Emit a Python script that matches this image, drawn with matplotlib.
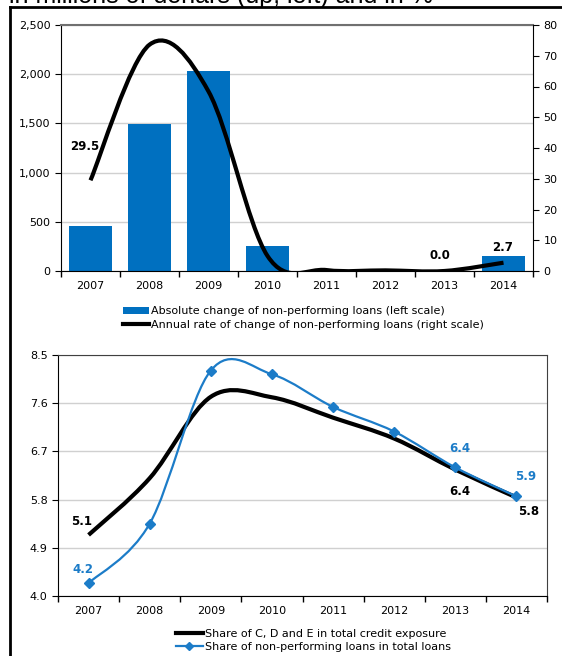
import numpy as np
import matplotlib
matplotlib.use('Agg')
import matplotlib.pyplot as plt
from matplotlib.path import Path
from matplotlib.patches import PathPatch, Patch
from matplotlib.lines import Line2D
from matplotlib.ticker import FuncFormatter

# data
years = ['2007', '2008', '2009', '2010', '2011', '2012', '2013', '2014']
npl_abs_change = [459, 1495, 2035, 257, 0, 0, 0, 155]          # millions of denars, left scale
npl_rate = [29.5, 73.6, 58.4, 4.9, 0.3, 0.2, 0.0, 2.7]           # %, right scale
share_cde = [5.14, 6.20, 7.72, 7.71, 7.33, 6.94, 6.36, 5.84]     # %
share_npl = [4.24, 5.35, 8.21, 8.14, 7.53, 7.07, 6.40, 5.86]     # %

title_txt = 'in millions of denars (up, left) and in %'
leg_top = ['Absolute change of non-performing loans (left scale)',
           'Annual rate of change of non-performing loans (right scale)']
leg_bot = ['Share of C, D and E in total credit exposure',
           'Share of non-performing loans in total loans']

bar_blue = '#0070C0'
line_blue = '#1C7CC8'
grid_col = '#D0D0D0'


def smooth_path(xs, ys):
    # excel-like smoothed line: cubic bezier through the points
    xs = np.asarray(xs, float)
    ys = np.asarray(ys, float)
    n = len(xs)
    verts = [(xs[0], ys[0])]
    codes = [Path.MOVETO]
    for i in range(n - 1):
        i0 = max(i - 1, 0)
        i3 = min(i + 2, n - 1)
        c1 = (xs[i] + (xs[i + 1] - xs[i0]) / 6, ys[i] + (ys[i + 1] - ys[i0]) / 6)
        c2 = (xs[i + 1] - (xs[i3] - xs[i]) / 6, ys[i + 1] - (ys[i3] - ys[i]) / 6)
        verts += [c1, c2, (xs[i + 1], ys[i + 1])]
        codes += [Path.CURVE4] * 3
    return Path(verts, codes)


def cat_axis(ax):
    ax.set_xlim(-0.5, len(years) - 0.5)
    ax.set_xticks(np.arange(-0.5, len(years), 1.0))
    ax.set_xticklabels([])
    ax.set_xticks(np.arange(len(years)), minor=True)
    ax.set_xticklabels(years, minor=True)
    ax.tick_params(axis='x', which='major', direction='out', length=4, width=1, color='black')
    ax.tick_params(axis='x', which='minor', length=0, pad=7, labelsize=8)


plt.rcParams['font.family'] = 'DejaVu Sans'

fig = plt.figure(figsize=(5.62, 6.56), dpi=100)

# frame and cut-off title (only its lower part shows in the original)
fig.add_artist(Line2D([9.5 / 562, 9.5 / 562], [0, 1 - 7 / 656], color='black', lw=2))
fig.add_artist(Line2D([9.5 / 562, 1], [1 - 7 / 656, 1 - 7 / 656], color='black', lw=2))
fig.text(9 / 562, 1 - 3.5 / 656, title_txt, fontsize=18, family='Liberation Sans',
         va='baseline', ha='left')

######################################################################
# top chart
ax1 = fig.add_axes([61 / 562, 1 - 271 / 656, 472 / 562, 246 / 656])
x = np.arange(len(years))
ax1.bar(x, npl_abs_change, width=0.74, color=bar_blue, zorder=2)
ax1.set_ylim(0, 2500)
ax1.set_yticks(np.arange(0, 2501, 500))
ax1.yaxis.set_major_formatter(FuncFormatter(lambda v, p: '{:,.0f}'.format(v)))
ax1.grid(axis='y', color=grid_col, lw=1, zorder=0)
ax1.set_axisbelow(True)
cat_axis(ax1)
ax1.tick_params(axis='y', direction='out', length=4, labelsize=8)
ax1.spines['top'].set_color('#707070')
ax1.spines['top'].set_linewidth(1.5)
ax1.spines['right'].set_visible(False)

ax1r = ax1.twinx()
ax1r.set_ylim(0, 80)
ax1r.set_yticks(np.arange(0, 81, 10))
ax1r.tick_params(axis='y', direction='out', length=4, labelsize=8)
ax1r.spines['top'].set_visible(False)
ax1r.spines['left'].set_visible(False)
ax1r.spines['bottom'].set_visible(False)
ax1r.add_patch(PathPatch(smooth_path(x, npl_rate), fill=False, edgecolor='black', lw=3,
                         capstyle='butt', zorder=3))

ax1r.text(0 - 0.1, 40.5, '29.5', fontsize=8.5, fontweight='bold', ha='center', va='center')
ax1r.text(5.93, 5.2, '0.0', fontsize=8.5, fontweight='bold', ha='center', va='center')
ax1r.text(6.98, 7.8, '2.7', fontsize=8.5, fontweight='bold', ha='center', va='center')

h_top = [Patch(facecolor=bar_blue, edgecolor='none'),
         Line2D([], [], color='black', lw=3)]
fig.legend(h_top, leg_top, loc='center left', bbox_to_anchor=(123 / 562, 1 - 318 / 656),
           frameon=False, fontsize=8, handlelength=2.3, handleheight=0.7, handletextpad=0.2,
           labelspacing=0.3, borderpad=0, borderaxespad=0)

######################################################################
# bottom chart
ax2 = fig.add_axes([58 / 562, 1 - 596 / 656, 489 / 562, 241 / 656])
ax2.set_ylim(4.0, 8.5)
ax2.set_yticks([4.0, 4.9, 5.8, 6.7, 7.6, 8.5])
ax2.yaxis.set_major_formatter(FuncFormatter(lambda v, p: '{:.1f}'.format(v)))
ax2.grid(axis='y', color=grid_col, lw=1, zorder=0)
ax2.set_axisbelow(True)
cat_axis(ax2)
ax2.tick_params(axis='y', direction='out', length=4, labelsize=8)
for s in ['top', 'right']:
    ax2.spines[s].set_color('#404040')

ax2.add_patch(PathPatch(smooth_path(x, share_cde), fill=False, edgecolor='black', lw=3,
                        capstyle='butt', zorder=3))
ax2.add_patch(PathPatch(smooth_path(x, share_npl), fill=False, edgecolor=line_blue, lw=1.6,
                        zorder=4))
ax2.plot(x, share_npl, ls='none', marker='D', ms=5, color=line_blue, zorder=5)

ax2.text(-0.12, 5.40, '5.1', fontsize=8.5, fontweight='bold', ha='center', va='center')
ax2.text(-0.1, 4.50, '4.2', fontsize=8.5, fontweight='bold', ha='center', va='center', color=line_blue)
ax2.text(6.07, 6.75, '6.4', fontsize=8.5, fontweight='bold', ha='center', va='center', color=line_blue)
ax2.text(6.07, 5.96, '6.4', fontsize=8.5, fontweight='bold', ha='center', va='center')
ax2.text(7.15, 6.24, '5.9', fontsize=8.5, fontweight='bold', ha='center', va='center', color=line_blue)
ax2.text(7.2, 5.58, '5.8', fontsize=8.5, fontweight='bold', ha='center', va='center')

h_bot = [Line2D([], [], color='black', lw=3),
         Line2D([], [], color=line_blue, lw=1.6, marker='D', ms=4)]
fig.legend(h_bot, leg_bot, loc='center left', bbox_to_anchor=(176 / 562, 1 - 640.5 / 656),
           frameon=False, fontsize=8, handlelength=2.4, handletextpad=0.2,
           labelspacing=0.3, borderpad=0, borderaxespad=0)

plt.savefig('out.png', dpi=100)
plt.close()
